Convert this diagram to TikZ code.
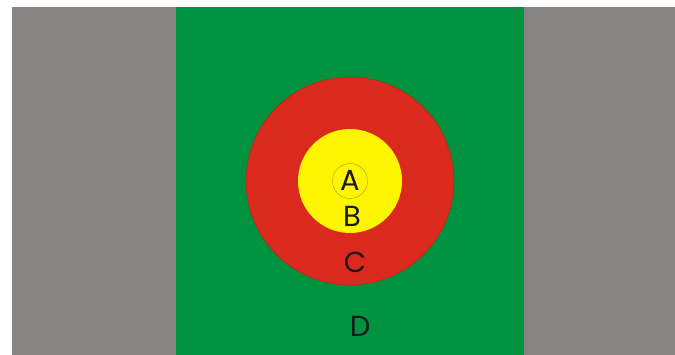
\documentclass[tikz,border=0pt]{standalone}
\usepackage{fontspec}
\setmainfont{Poppins}
\definecolor{bggray}{HTML}{878382}
\definecolor{fgreen}{HTML}{00923F}
\definecolor{tred}{HTML}{DC291E}
\definecolor{tyellow}{HTML}{FFF500}
\definecolor{ink}{HTML}{1A1A1A}
\tikzset{lbl/.style={font=\fontsize{29}{29}\selectfont, text=ink, inner sep=0pt}}
\begin{document}
\begin{tikzpicture}[x=1pt,y=-1pt]
\useasboundingbox (0,0) rectangle (675,355);
\fill[white] (0,0) rectangle (675,355);
\fill[bggray] (12,7) rectangle (675,355);
\fill[fgreen] (176,7) rectangle (524,355);
\filldraw[fill=tred, draw=tred!80!black, line width=0.4pt] (350,181) circle (104);
\fill[tyellow] (350,181) circle (52);
\draw[olive!70!yellow!80!black, line width=0.3pt] (350,181) circle (17.5);
\node[lbl] (A) at (350,180) {A};
\node[lbl] (B) at (352,216) {B};
\node[lbl] (C) at (355,262) {C};
\node[lbl] (D) at (360,326) {D};
\end{tikzpicture}
\end{document}
